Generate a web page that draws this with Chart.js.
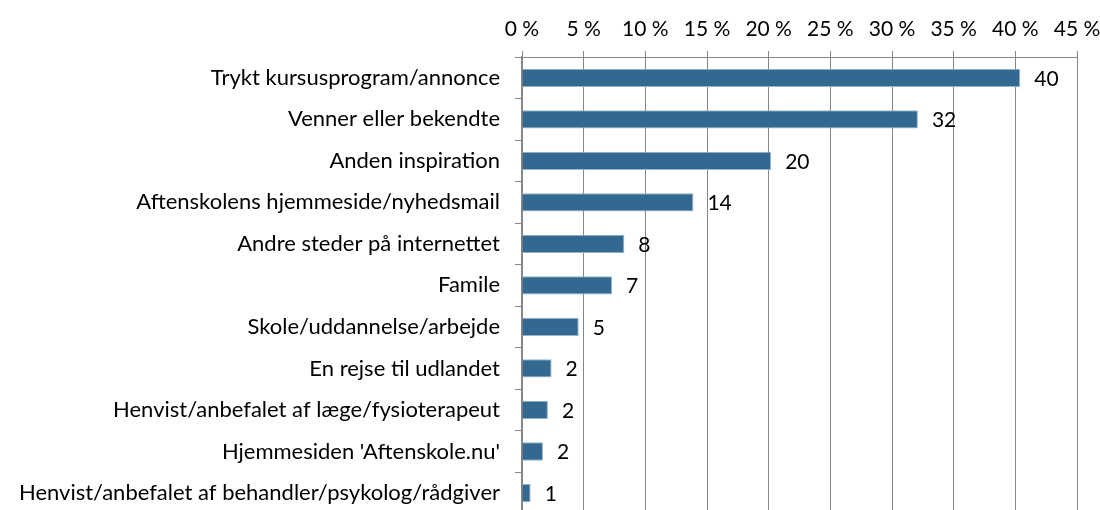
<!DOCTYPE html>
<html>
<head>
<meta charset="utf-8">
<script src="https://cdn.jsdelivr.net/npm/chart.js@4"></script>
<style>
  html, body { margin: 0; padding: 0; background: #fff; overflow: hidden; }
  #wrap { width: 1100px; height: 542px; }
</style>
</head>
<body>
<div id="wrap"><canvas id="chart"></canvas></div>
<script>
// categories (top to bottom)
var categories = [
    'Trykt kursusprogram/annonce',
    'Venner eller bekendte',
    'Anden inspiration',
    'Aftenskolens hjemmeside/nyhedsmail',
    'Andre steder på internettet',
    'Famile',
    'Skole/uddannelse/arbejde',
    'En rejse til udlandet',
    'Henvist/anbefalet af læge/fysioterapeut',
    "Hjemmesiden 'Aftenskole.nu'",
    'Henvist/anbefalet af behandler/psykolog/rådgiver'
];
// share of answers in percent
var values = [40.4, 32.1, 20.2, 13.9, 8.3, 7.3, 4.6, 2.4, 2.1, 1.7, 0.7];
// x axis ticks
var xTicks = [0, 5, 10, 15, 20, 25, 30, 35, 40, 45];

var gridColor = 'rgb(134, 134, 134)';
var fontFamily = 'Lato, "Open Sans", sans-serif';

//Draw the rounded value right of each bar
var valueLabels = {
    id: 'valueLabels',
    afterDatasetsDraw: function(chart){
        var ctx = chart.ctx;
        var meta = chart.getDatasetMeta(0);
        ctx.save();
        ctx.font = '21px ' + fontFamily;
        ctx.fillStyle = '#000';
        ctx.textAlign = 'left';
        ctx.textBaseline = 'middle';
        meta.data.forEach(function(bar, i){
            ctx.fillText(String(Math.round(values[i])), bar.x + 14, bar.y + 1);
        });
        ctx.restore();
    }
};

var ctx = document.getElementById('chart').getContext('2d');
var chart = new Chart(ctx, {
    type: 'bar',
    data: {
        labels: categories,
        datasets: [{
            data: values,
            backgroundColor: 'rgb(51, 105, 145)',
            borderColor: 'rgb(150, 180, 205)',
            borderWidth: 1,
            categoryPercentage: 1,
            barPercentage: 0.44
        }]
    },
    options: {
        indexAxis: 'y',
        responsive: true,
        maintainAspectRatio: false,
        animation: false,
        layout: { padding: { top: 0, right: 23, left: 0, bottom: 0 } },
        plugins: {
            legend: { display: false },
            tooltip: { enabled: false }
        },
        scales: {
            x: {
                position: 'top',
                min: 0,
                max: 45,
                afterBuildTicks: function(scale){
                    scale.ticks = xTicks.map(function(v){ return { value: v }; });
                },
                afterFit: function(scale){
                    scale.height = 57;
                    scale.paddingRight = 0;
                    scale.paddingLeft = 0;
                },
                grid: {
                    color: gridColor,
                    lineWidth: 1,
                    tickLength: 6,
                    drawTicks: true
                },
                border: { display: true, color: gridColor, width: 1 },
                ticks: {
                    padding: 9,
                    color: '#000',
                    font: { family: fontFamily, size: 21 },
                    maxRotation: 0,
                    callback: function(v){ return v + ' %'; }
                }
            },
            y: {
                afterFit: function(scale){ scale.width = 522; },
                grid: {
                    drawOnChartArea: false,
                    drawTicks: true,
                    tickLength: 7,
                    color: gridColor
                },
                border: { display: true, color: gridColor, width: 2 },
                ticks: {
                    padding: 15,
                    color: '#000',
                    autoSkip: false,
                    font: { family: fontFamily, size: 22 }
                }
            }
        }
    },
    plugins: [valueLabels]
});
</script>
</body>
</html>
